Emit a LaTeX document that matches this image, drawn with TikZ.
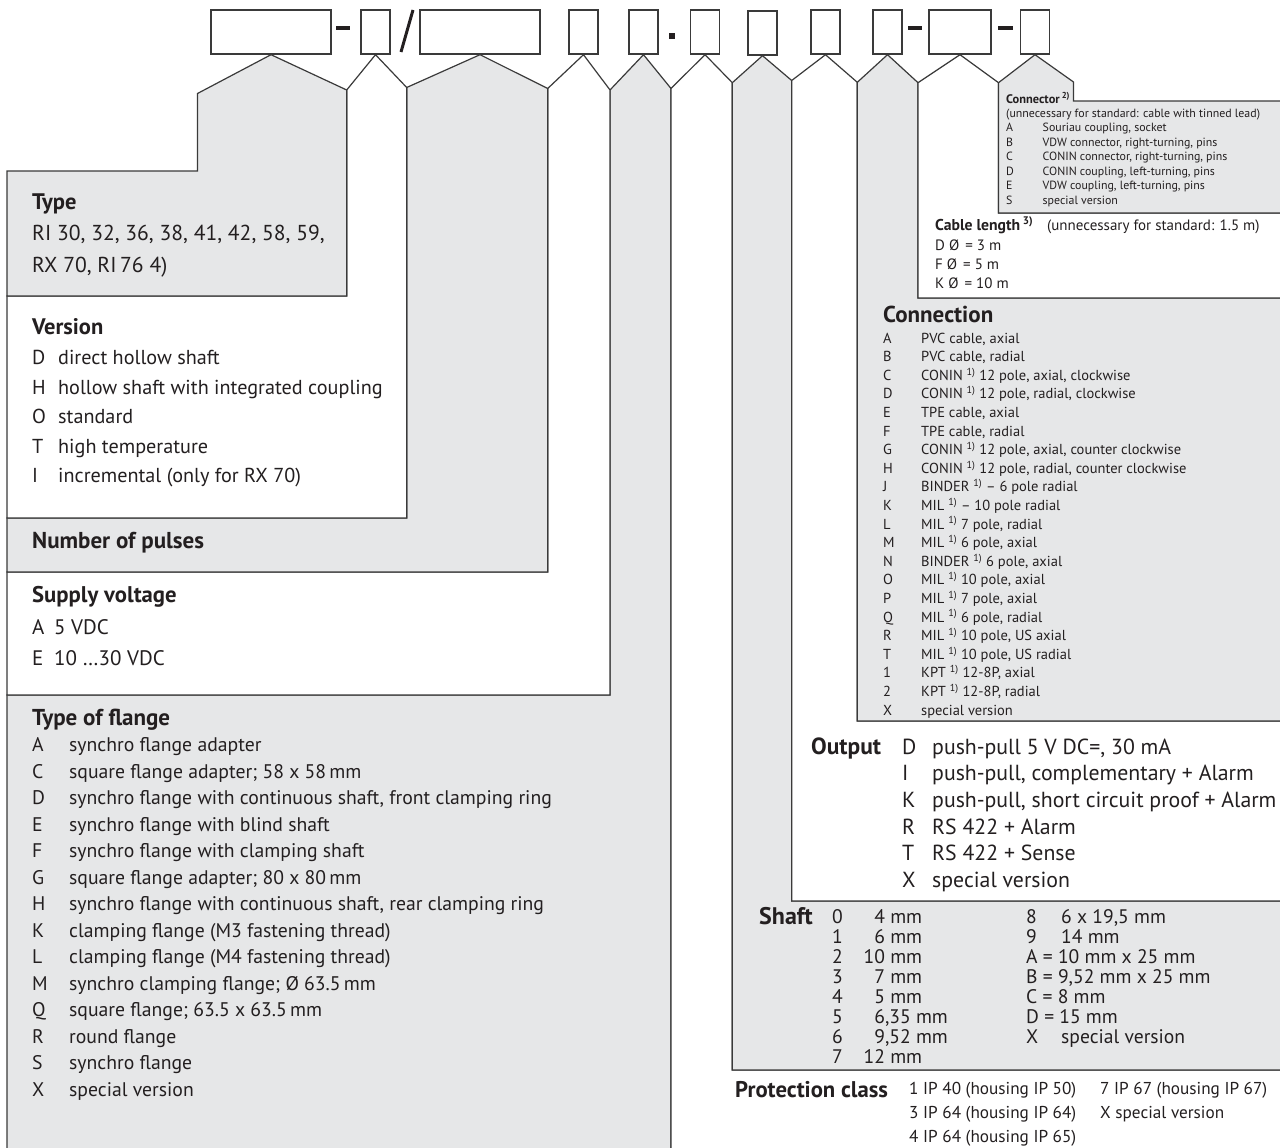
\documentclass[tikz,border=0pt]{standalone}
\usepackage{fontspec}
\setmainfont{PT Sans}
\usepackage{array}
\definecolor{flgray}{HTML}{E6E7E8}
\definecolor{edge}{HTML}{3A3A3A}
\definecolor{ink}{HTML}{231F20}
\newcommand{\fsz}[2]{\fontsize{#1}{#2}\selectfont}
\newcommand{\fnref}[1]{\textsuperscript{#1}}

\begin{document}
\begin{tikzpicture}[x=1pt, y=-1pt,
    region/.style={draw=edge, line width=1.2pt},
    grayreg/.style={region, fill=flgray},
    whitereg/.style={region, fill=white},
    codebox/.style={draw=edge, line width=1.4pt, fill=white, minimum height=44pt, inner sep=0pt},
    txt/.style={inner sep=0pt, text=ink, anchor=base west},
    list/.style={inner sep=0pt, text=ink, anchor=north west},
    sep/.style={line width=3.5pt, ink}]
    \useasboundingbox (0,0) rectangle (1280,1148);
    \clip (0,0) rectangle (1280,1148);

    % Code boxes
    \node[codebox, minimum width=120pt] (box1) at (271,32) {};
    \node[codebox, minimum width=29pt] (box2) at (375.5,32) {};
    \node[codebox, minimum width=120pt] (box3) at (480,32) {};
    \node[codebox, minimum width=29pt] (box4) at (583.5,32) {};
    \node[codebox, minimum width=29pt] (box5) at (643.5,32) {};
    \node[codebox, minimum width=29pt] (box6) at (705,32) {};
    \node[codebox, minimum width=29pt] (box7) at (762.5,33) {};
    \node[codebox, minimum width=29pt] (box8) at (825.5,32) {};
    \node[codebox, minimum width=29pt] (box9) at (887.5,32) {};
    \node[codebox, minimum width=62pt] (box10) at (960,32) {};
    \node[codebox, minimum width=29pt] (box11) at (1035,32) {};
    % Separators
    \draw[sep] (336,28) -- (350,28);
    \draw[sep, line width=3pt] (413,10) -- (401,52);
    \fill[ink] (668.8,32.8) rectangle (674.8,38.8);
    \draw[sep] (908,28) -- (922,28);
    \draw[sep] (998,28) -- (1013,28);

    % Feet of the roofs
    \coordinate (b0) at (197.5,93.5);
    \coordinate (b1) at (346.7,90);
    \coordinate (b2) at (406.7,87.5);
    \coordinate (b3) at (547.7,88.5);
    \coordinate (b4) at (610,90);
    \coordinate (b5) at (671,88.5);
    \coordinate (b6) at (732.3,82.7);
    \coordinate (b7) at (791.7,80.5);
    \coordinate (b8) at (857.3,82.3);
    \coordinate (b9) at (918,82.7);
    \coordinate (b10) at (998.5,82.7);
    \coordinate (b11) at (1073.5,82);

    % Left fields
    \draw[grayreg] (b4) -- (box5.south) -- (b5) -- (b5 |- 0,1160) -- (7,1160) -- (7,695) -- (b4 |- 0,695) -- cycle;
    \draw[whitereg] (b3) -- (box4.south) -- (b4) -- (b4 |- 0,695) -- (7,695) -- (7,572) -- (b3 |- 0,572) -- cycle;
    \draw[grayreg] (b2) -- (box3.south) -- (b3) -- (b3 |- 0,572) -- (7,572) -- (7,518) -- (b2 |- 0,518) -- cycle;
    \draw[whitereg] (b1) -- (box2.south) -- (b2) -- (b2 |- 0,518) -- (7,518) -- (7,296) -- (b1 |- 0,296) -- cycle;
    \draw[grayreg] (b0) -- (box1.south) -- (b1) -- (b1 |- 0,296) -- (7,296) -- (7,171) -- (b0 |- 0,171) -- cycle;
    % Right fields
    \draw[whitereg] (b5) -- (box6.south) -- (b6) -- (b6 |- 0,1070) -- (1290,1070) -- (1290,1160) -- (b5 |- 0,1160) -- cycle;
    \draw[grayreg] (b6) -- (box7.south) -- (b7) -- (b7 |- 0,901) -- (1290,901) -- (1290,1070) -- (b6 |- 0,1070) -- cycle;
    \draw[whitereg] (b7) -- (box8.south) -- (b8) -- (b8 |- 0,721) -- (1290,721) -- (1290,901) -- (b7 |- 0,901) -- cycle;
    \draw[grayreg] (b8) -- (box9.south) -- (b9) -- (b9 |- 0,298) -- (1290,298) -- (1290,721) -- (b8 |- 0,721) -- cycle;
    \draw[whitereg] (b9) -- (box10.south) -- (b10) -- (b10 |- 0,213) -- (1290,213) -- (1290,298) -- (b9 |- 0,298) -- cycle;
    \draw[grayreg] (b10) -- (box11.south) -- (b11) -- (b11 |- 0,101) -- (1290,101) -- (1290,213) -- (b10 |- 0,213) -- cycle;

    % Type
    \node[txt, font=\bfseries\fsz{22.5}{32}] (typehead) at (32,209.8) {Type};
    \node[list, font=\fsz{21.6}{32}] (typelist) at (32,217.9) {\begin{tabular}{@{}l@{}}RI 30, 32, 36, 38, 41, 42, 58, 59,\\ RX 70, RI\,76 4)\end{tabular}};
    % Version
    \node[txt, font=\bfseries\fsz{22.5}{30}] (verhead) at (32,334.8) {Version};
    \node[list, font=\fsz{20.2}{29.5}] (verlist) at (32,343.7) {\begin{tabular}{@{}p{26pt}@{}l@{}}D & direct hollow shaft\\ H & hollow shaft with integrated coupling\\ O & standard\\ T & high temperature\\ I & incremental (only for RX 70)\end{tabular}};
    % Number of pulses
    \node[txt, font=\bfseries\fsz{23}{30}] (pulses) at (32,548.8) {Number of pulses};
    % Supply voltage
    \node[txt, font=\bfseries\fsz{22.7}{30}] (supplyhead) at (32,602.8) {Supply voltage};
    \node[list, font=\fsz{21}{31}] (supplylist) at (32,612.6) {\begin{tabular}{@{}p{22pt}@{}l@{}}A & 5 VDC\\ E & 10 \dots30 VDC\end{tabular}};
    % Type of flange
    \node[txt, font=\bfseries\fsz{23}{30}] (flangehead) at (32,725.8) {Type of flange};
    \node[list, font=\fsz{19.7}{26.5}] (flangelist) at (32,733.2) {\begin{tabular}{@{}p{37pt}@{}l@{}}A & synchro flange adapter\\ C & square flange adapter; 58 x 58\,mm\\ D & synchro flange with continuous shaft, front clamping ring\\ E & synchro flange with blind shaft\\ F & synchro flange with clamping shaft\\ G & square flange adapter; 80 x 80\,mm\\ H & synchro flange with continuous shaft, rear clamping ring\\ K & clamping flange (M3 fastening thread)\\ L & clamping flange (M4 fastening thread)\\ M & synchro clamping flange; Ø 63.5\,mm\\ Q & square flange; 63.5 x 63.5\,mm\\ R & round flange\\ S & synchro flange\\ X & special version\end{tabular}};

    % Connector
    \node[txt, font=\bfseries\fsz{12.4}{14.5}] (connhead) at (1006,103) {Connector\,\fnref{2)}};
    \node[list, font=\fsz{11.9}{14.45}] (connlist) at (1006,107.2) {\begin{tabular}{@{}p{36.5pt}@{}l@{}}\multicolumn{2}{@{}l@{}}{(unnecessary for standard: cable with tinned lead)}\\ A & Souriau coupling, socket\\ B & VDW connector, right-turning, pins\\ C & CONIN connector, right-turning, pins\\ D & CONIN coupling, left-turning, pins\\ E & VDW coupling, left-turning, pins\\ S & special version\end{tabular}};
    % Cable length
    \node[txt, font=\bfseries\fsz{15.7}{19}] (cablehead) at (935,230) {Cable length\,\fnref{3)}};
    \node[txt, font=\fsz{15}{19}] (cablenote) at (1047,230) {(unnecessary for standard: 1.5 m)};
    \node[list, font=\fsz{15}{19}] (cablelist) at (935,236.8) {\begin{tabular}{@{}l@{}}D Ø\hspace{6pt}= 3 m\\ F Ø\hspace{6pt}= 5 m\\ K Ø\hspace{6pt}= 10 m\end{tabular}};
    % Connection
    \node[txt, font=\bfseries\fsz{23}{24}] (conhead) at (883,322.5) {Connection};
    \node[list, font=\fsz{14.5}{18.6}] (conlist) at (883,329.9) {\begin{tabular}{@{}p{38pt}@{}l@{}}A & PVC cable, axial\\ B & PVC cable, radial\\ C & CONIN \fnref{1)} 12 pole, axial, clockwise\\ D & CONIN \fnref{1)} 12 pole, radial, clockwise\\ E & TPE cable, axial\\ F & TPE cable, radial\\ G & CONIN \fnref{1)} 12 pole, axial, counter clockwise\\ H & CONIN \fnref{1)} 12 pole, radial, counter clockwise\\ J & BINDER \fnref{1)} -- 6 pole radial\\ K & MIL \fnref{1)} -- 10 pole radial\\ L & MIL \fnref{1)} 7 pole, radial\\ M & MIL \fnref{1)} 6 pole, axial\\ N & BINDER \fnref{1)} 6 pole, axial\\ O & MIL \fnref{1)} 10 pole, axial\\ P & MIL \fnref{1)} 7 pole, axial\\ Q & MIL \fnref{1)} 6 pole, radial\\ R & MIL \fnref{1)} 10 pole, US axial\\ T & MIL \fnref{1)} 10 pole, US radial\\ 1 & KPT \fnref{1)} 12-8P, axial\\ 2 & KPT \fnref{1)} 12-8P, radial\\ X & special version\end{tabular}};
    % Output
    \node[txt, font=\bfseries\fsz{23.4}{26.6}] (outhead) at (811,754.5) {Output};
    \node[list, font=\fsz{21.8}{26.6}] (outlist) at (902,735.4) {\begin{tabular}{@{}p{30pt}@{}l@{}}D & push-pull 5 V DC=, 30 mA\\ I & push-pull, complementary + Alarm\\ K & push-pull, short circuit proof + Alarm\\ R & RS 422 + Alarm\\ T & RS 422 + Sense\\ X & special version\end{tabular}};
    % Shaft
    \node[txt, font=\bfseries\fsz{24}{20}] (shafthead) at (759,924) {Shaft};
    \node[list, font=\fsz{19.6}{20}] (shaftlist) at (832,909.3) {\begin{tabular}{@{}p{31.5pt}@{}l@{}}0 & \phantom{1}4 mm\\ 1 & \phantom{1}6 mm\\ 2 & 10 mm\\ 3 & \phantom{1}7 mm\\ 4 & \phantom{1}5 mm\\ 5 & \phantom{1}6,35 mm\\ 6 & \phantom{1}9,52 mm\\ 7 & 12 mm\end{tabular}};
    \node[list, font=\fsz{19.6}{20}] (shaftmore) at (1026,909.3) {\begin{tabular}{@{}p{35pt}@{}l@{}}8 & 6 x 19,5 mm\\ 9 & 14 mm\\ \multicolumn{2}{@{}l@{}}{A = 10 mm x 25 mm}\\ \multicolumn{2}{@{}l@{}}{B = 9,52 mm x 25 mm}\\ \multicolumn{2}{@{}l@{}}{C = 8 mm}\\ \multicolumn{2}{@{}l@{}}{D = 15 mm}\\ X & special version\end{tabular}};
    % Protection class
    \node[txt, font=\bfseries\fsz{22.7}{24}] (protecthead) at (735,1097) {Protection class};
    \node[list, font=\fsz{17.2}{24}] (protectlist) at (909,1077.2) {\begin{tabular}{@{}l@{}}1 IP 40 (housing IP 50)\\ 3 IP 64 (housing IP 64)\\ 4 IP 64 (housing IP 65)\end{tabular}};
    \node[list, font=\fsz{17.2}{24}] (protectmore) at (1100,1077.2) {\begin{tabular}{@{}l@{}}7 IP 67 (housing IP 67)\\ X special version\end{tabular}};
\end{tikzpicture}
\end{document}
